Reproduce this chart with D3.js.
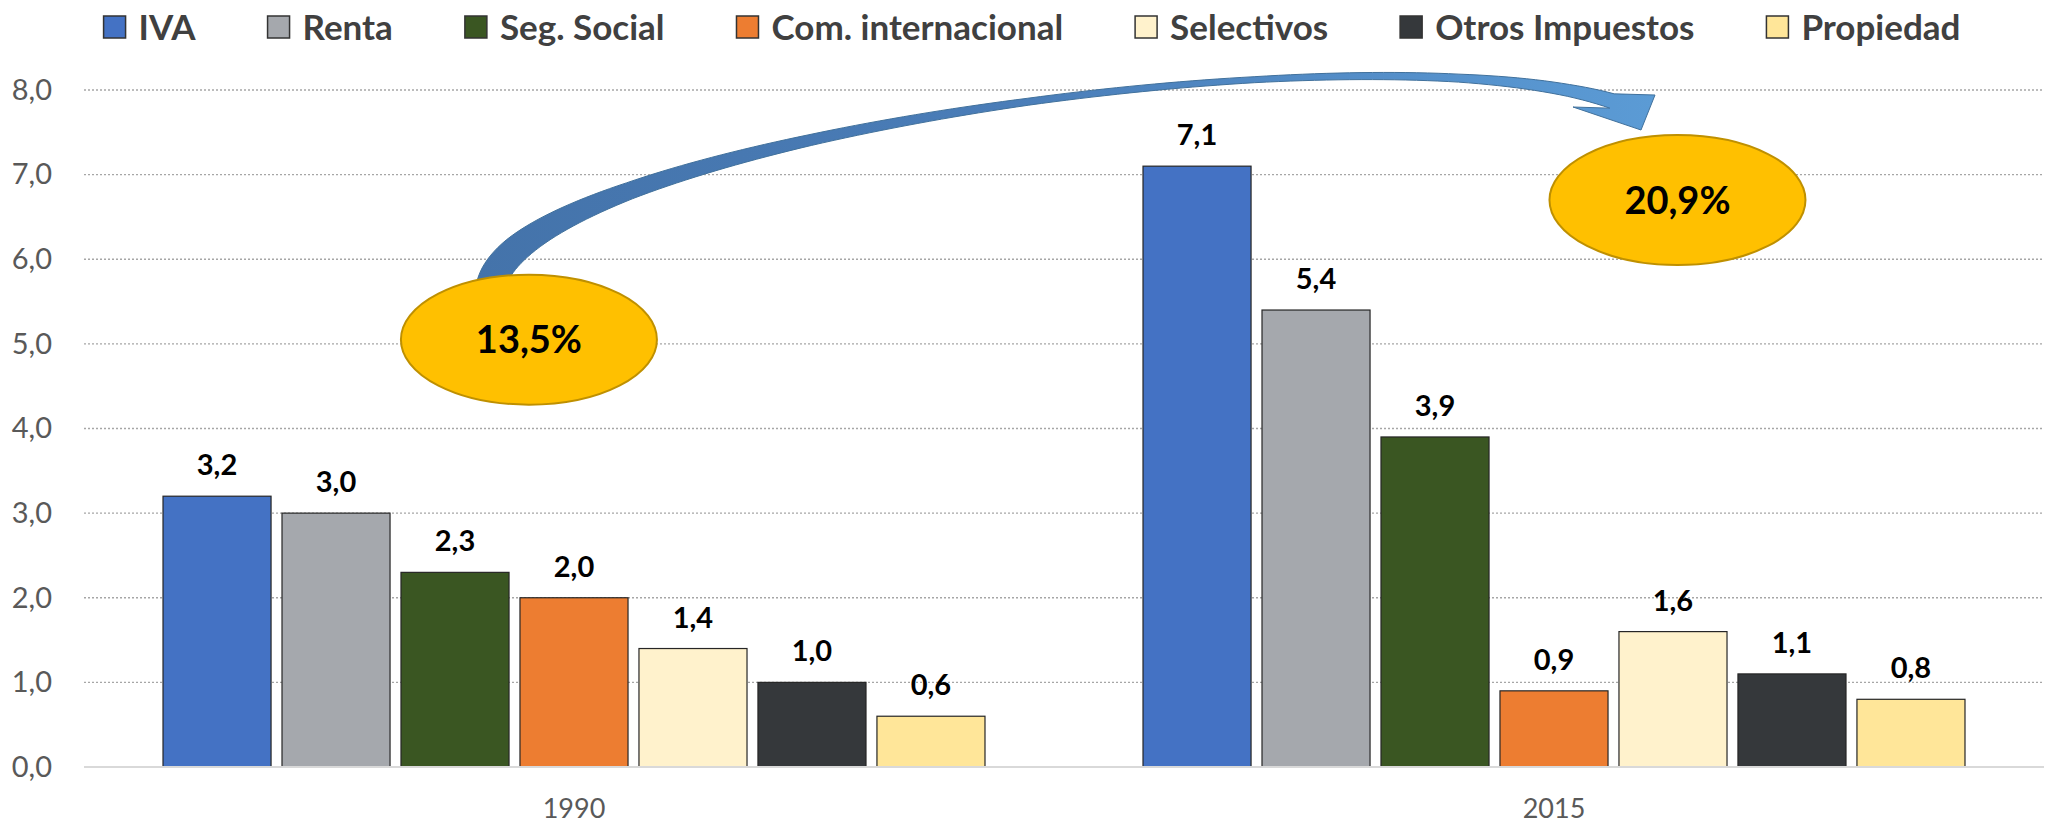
<!DOCTYPE html>
<html>
<head>
<meta charset="utf-8">
<script src="https://cdn.jsdelivr.net/npm/d3@7"></script>
<style>
  html, body { margin: 0; padding: 0; background: #ffffff; }
  svg { display: block; }
</style>
</head>
<body>
<svg id="chart" width="2056" height="825"></svg>
<script>
// Tax revenue by type, % of GDP
const years = ["1990", "2015"];
const taxTypes = ["IVA", "Renta", "Seg. Social", "Com. internacional", "Selectivos", "Otros Impuestos", "Propiedad"];
const values1990 = [3.2, 3.0, 2.3, 2.0, 1.4, 1.0, 0.6];
const values2015 = [7.1, 5.4, 3.9, 0.9, 1.6, 1.1, 0.8];
const yTickValues = [0, 1, 2, 3, 4, 5, 6, 7, 8];
const totalShares = ["13,5%", "20,9%"];
const taxColors = ["#4472C4", "#A5A8AD", "#3A5622", "#ED7D31", "#FFF2CC", "#35383B", "#FFE699"];

const valuesByYear = { "1990": values1990, "2015": values2015 };
const fmt = v => d3.format(".1f")(v).replace(".", ",");

const W = 2056, H = 825;
const plot = { left: 84, right: 2044, top: 90, bottom: 767 };
const svg = d3.select("#chart");

const x0 = d3.scaleBand().domain(years).range([plot.left, plot.right]).padding(0);
const x1 = d3.scaleBand().domain(taxTypes).range([0, x0.bandwidth()])
  .paddingInner(0.092).paddingOuter(0.664);
const y = d3.scaleLinear().domain([0, 8]).range([plot.bottom, plot.top]);
const color = d3.scaleOrdinal().domain(taxTypes).range(taxColors);

// Horizontal dotted gridlines
svg.append("g")
  .selectAll("line")
  .data(yTickValues.filter(d => d > 0))
  .join("line")
  .attr("x1", plot.left).attr("x2", plot.right)
  .attr("y1", d => y(d)).attr("y2", d => y(d))
  .attr("stroke", "#A6A6A6")
  .attr("stroke-width", 1.4)
  .attr("stroke-dasharray", "2,2");

// Y axis labels
const yAxis = d3.axisLeft(y).tickValues(yTickValues).tickFormat(fmt).tickSize(0).tickPadding(0);
svg.append("g")
  .attr("transform", `translate(52,0)`)
  .call(yAxis)
  .call(g => g.select(".domain").remove())
  .call(g => g.selectAll("text")
    .attr("font-family", "Lato, 'Open Sans', sans-serif")
    .attr("font-size", 29)
    .attr("fill", "#595959"));

// Bars
const groups = svg.append("g")
  .selectAll("g")
  .data(years)
  .join("g")
  .attr("transform", d => `translate(${x0(d)},0)`);

groups.selectAll("rect")
  .data(yr => taxTypes.map((t, i) => ({ type: t, value: valuesByYear[yr][i] })))
  .join("rect")
  .attr("x", d => x1(d.type))
  .attr("width", x1.bandwidth())
  .attr("y", d => y(d.value))
  .attr("height", d => y(0) - y(d.value))
  .attr("fill", d => color(d.type))
  .attr("stroke", "#262626")
  .attr("stroke-width", 1.2);

groups.selectAll("text.value")
  .data(yr => taxTypes.map((t, i) => ({ type: t, value: valuesByYear[yr][i] })))
  .join("text")
  .attr("class", "value")
  .attr("x", d => x1(d.type) + x1.bandwidth() / 2)
  .attr("y", d => y(d.value) - 21)
  .attr("text-anchor", "middle")
  .attr("font-family", "Lato, 'Open Sans', sans-serif")
  .attr("font-weight", 700)
  .attr("font-size", 29)
  .attr("fill", "#000")
  .text(d => fmt(d.value));

// Baseline
svg.append("line")
  .attr("x1", plot.left).attr("x2", plot.right)
  .attr("y1", y(0)).attr("y2", y(0))
  .attr("stroke", "#D9D9D9").attr("stroke-width", 2);

// Category axis labels
const xAxis = d3.axisBottom(x0).tickSize(0).tickPadding(0);
svg.append("g")
  .attr("transform", `translate(0,${plot.bottom})`)
  .call(xAxis)
  .call(g => g.select(".domain").remove())
  .call(g => g.selectAll("text")
    .attr("dy", null)
    .attr("y", 51)
    .attr("font-family", "Lato, 'Open Sans', sans-serif")
    .attr("font-size", 27)
    .attr("fill", "#595959"));

// Connector arrow: tapered curved block arrow along a cubic Bézier spine
const spine = [[491, 292], [491, 150], [1350, 20], [1612, 101]];
const thickness = d3.scaleLinear()
  .domain([0, 0.1, 0.25, 0.4, 0.55, 0.7, 0.85, 0.95, 1])
  .range([31, 27, 17, 11, 7, 6, 8, 12, 15]);
function bez(t) {
  const u = 1 - t;
  const a = u * u * u, b = 3 * u * u * t, c = 3 * u * t * t, d = t * t * t;
  return [
    a * spine[0][0] + b * spine[1][0] + c * spine[2][0] + d * spine[3][0],
    a * spine[0][1] + b * spine[1][1] + c * spine[2][1] + d * spine[3][1]
  ];
}
function bezTangent(t) {
  const u = 1 - t;
  const k0 = 3 * u * u, k1 = 6 * u * t, k2 = 3 * t * t;
  const dx = k0 * (spine[1][0] - spine[0][0]) + k1 * (spine[2][0] - spine[1][0]) + k2 * (spine[3][0] - spine[2][0]);
  const dy = k0 * (spine[1][1] - spine[0][1]) + k1 * (spine[2][1] - spine[1][1]) + k2 * (spine[3][1] - spine[2][1]);
  const len = Math.hypot(dx, dy) || 1;
  return [dx / len, dy / len];
}
const ts = d3.range(0, 1.0001, 1 / 120);
const upper = [], lower = [];
ts.forEach(t => {
  const p = bez(t), tg = bezTangent(t);
  const n = [tg[1], -tg[0]]; // left-hand normal (upper/outer side)
  const h = thickness(t) / 2;
  upper.push([p[0] + n[0] * h, p[1] + n[1] * h]);
  lower.push([p[0] - n[0] * h, p[1] - n[1] * h]);
});
const end = spine[3];
const headPts = [[end[0] + 43, end[1] - 6], [end[0] + 29, end[1] + 29], [end[0] - 39, end[1] + 6]];
const outline = upper.concat(headPts, lower.slice().reverse());

const defs = svg.append("defs");
const grad = defs.append("linearGradient").attr("id", "arrowFill")
  .attr("gradientUnits", "userSpaceOnUse")
  .attr("x1", 475).attr("x2", 1655).attr("y1", 0).attr("y2", 0);
grad.append("stop").attr("offset", "0%").attr("stop-color", "#4473AA");
grad.append("stop").attr("offset", "45%").attr("stop-color", "#4A7DB8");
grad.append("stop").attr("offset", "100%").attr("stop-color", "#5B9BD5");

svg.append("path")
  .attr("d", d3.line()(outline) + "Z")
  .attr("fill", "url(#arrowFill)")
  .attr("stroke", "#41719C")
  .attr("stroke-width", 1)
  .attr("stroke-linejoin", "round");

// Share bubbles: total tax burden per year
const bubbles = [
  { year: "1990", pos: 0.454, value: 5.05, label: totalShares[0] },
  { year: "2015", pos: 0.626, value: 6.7, label: totalShares[1] }
];
const bub = svg.append("g").selectAll("g").data(bubbles).join("g")
  .attr("transform", d => `translate(${x0(d.year) + d.pos * x0.bandwidth()},${y(d.value)})`);
bub.append("ellipse")
  .attr("rx", 128).attr("ry", 65)
  .attr("fill", "#FFC000")
  .attr("stroke", "#BF9000")
  .attr("stroke-width", 2);
bub.append("text")
  .attr("text-anchor", "middle")
  .attr("dy", "0.36em")
  .attr("font-family", "Lato, 'Open Sans', sans-serif")
  .attr("font-weight", 700)
  .attr("font-size", 38)
  .attr("fill", "#000")
  .text(d => d.label);

// Legend, centred across the top
const legend = svg.append("g");
const items = legend.selectAll("g").data(taxTypes).join("g");
items.append("rect")
  .attr("width", 22).attr("height", 22)
  .attr("y", 16)
  .attr("fill", d => color(d))
  .attr("stroke", "#333")
  .attr("stroke-width", 1.5);
items.append("text")
  .attr("x", 35)
  .attr("y", 27)
  .attr("dy", "0.36em")
  .attr("font-family", "Lato, 'Open Sans', sans-serif")
  .attr("font-weight", 700)
  .attr("font-size", 35)
  .attr("fill", "#404040")
  .text(d => d);
const legendGap = 72;
let cursor = 0;
const offsets = [];
items.each(function () {
  const w = 35 + d3.select(this).select("text").node().getComputedTextLength();
  offsets.push(cursor);
  cursor += w + legendGap;
});
const totalW = cursor - legendGap;
const startX = (W - totalW) / 2 + 4;
items.attr("transform", (d, i) => `translate(${startX + offsets[i]},0)`);
</script>
</body>
</html>
